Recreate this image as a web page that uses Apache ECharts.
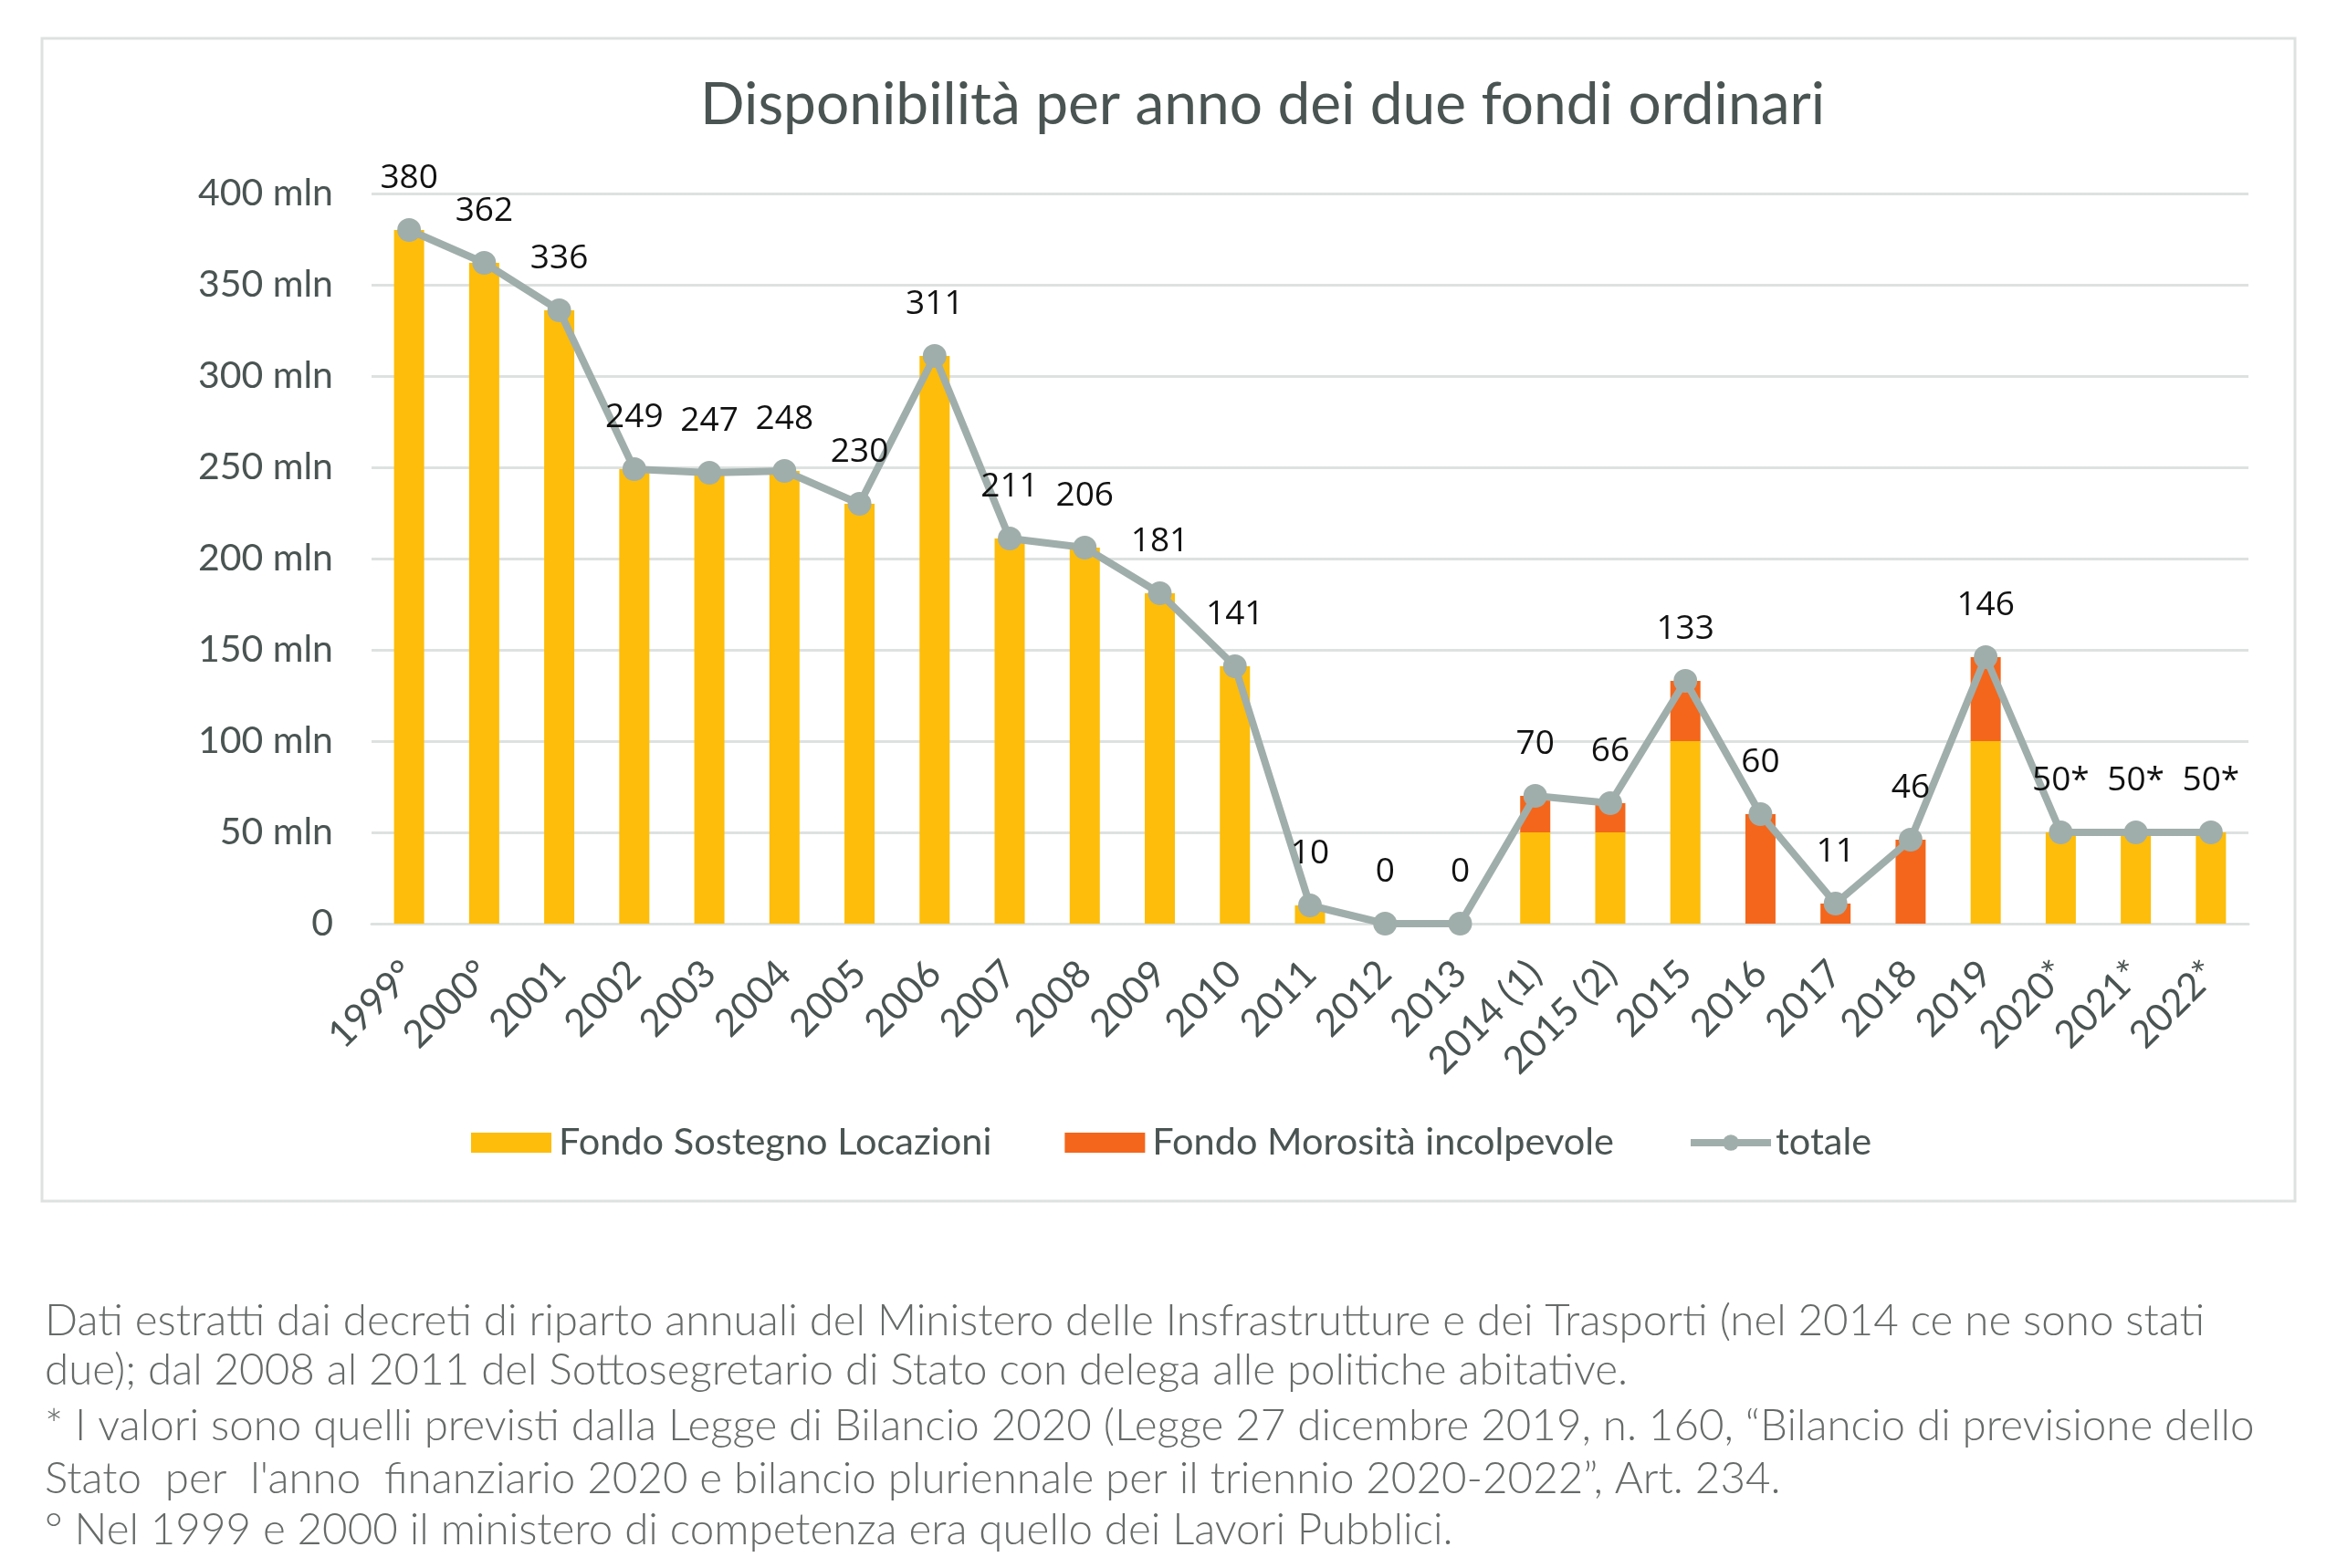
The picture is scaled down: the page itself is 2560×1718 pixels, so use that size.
<!DOCTYPE html>
<html>
<head>
<meta charset="utf-8">
<script src="https://cdn.jsdelivr.net/npm/echarts@6/dist/echarts.min.js"></script>
<style>
html,body{margin:0;padding:0;background:#fff;}
#chart{width:2560px;height:1718px;}
</style>
</head>
<body>
<div id="chart"></div>
<script>
const categories = ['1999°','2000°','2001','2002','2003','2004','2005','2006','2007','2008','2009','2010','2011','2012','2013','2014 (1)','2015 (2)','2015','2016','2017','2018','2019','2020*','2021*','2022*'];
const fondoSostegno = [380,362,336,249,247,248,230,311,211,206,181,141,10,0,0,50,50,100,null,null,null,100,50,50,50];
const fondoMorosita = [null,null,null,null,null,null,null,null,null,null,null,null,null,null,null,20,16,33,60,11,46,46,null,null,null];
const totale = [380,362,336,249,247,248,230,311,211,206,181,141,10,0,0,70,66,133,60,11,46,146,50,50,50];
const totaleLabels = ['380','362','336','249','247','248','230','311','211','206','181','141','10','0','0','70','66','133','60','11','46','146','50*','50*','50*'];
const yTicks = {min:0, max:400, interval:50};
const titleText = 'Disponibilità per anno dei due fondi ordinari';
const footnotes = [
  'Dati estratti dai decreti di riparto annuali del Ministero delle Insfrastrutture e dei Trasporti (nel 2014 ce ne sono stati',
  'due); dal 2008 al 2011 del Sottosegretario di Stato con delega alle politiche abitative.',
  '* I valori sono quelli previsti dalla Legge di Bilancio 2020 (Legge 27 dicembre 2019, n. 160, “Bilancio di previsione dello',
  'Stato  per  l\'anno  finanziario 2020 e bilancio pluriennale per il triennio 2020-2022”, Art. 234.',
  '° Nel 1999 e 2000 il ministero di competenza era quello dei Lavori Pubblici.'
];

const chart = echarts.init(document.getElementById('chart'), null, {renderer:'canvas'});
const footY = [1448,1502,1563,1621,1677];
const graphics = [{
  type:'rect', shape:{x:46,y:42,width:2468,height:1274},
  style:{fill:'none', stroke:'#dde2e0', lineWidth:3}, silent:true, z:-1
}];
footnotes.forEach((t,i)=>{
  graphics.push({type:'text', x:49, y:footY[i], style:{text:t, fill:'#666a69', font:'300 47.5px Lato', textVerticalAlign:'middle', textAlign:'left'}});
});

chart.setOption({
  backgroundColor:'#ffffff',
  animation:false,
  title:{text:titleText, left:762, top:78, textStyle:{fontFamily:'Lato', fontWeight:'normal', fontSize:64, color:'#4a5452'}},
  grid:{left:407, right:97, top:212, bottom:706, containLabel:false},
  legend:{
    left:511, top:1226, itemWidth:88, itemHeight:22, itemGap:80,
    textStyle:{fontFamily:'Lato', fontSize:41.5, color:'#4a5452', padding:[0,0,0,3]},
    data:[
      {name:'Fondo Sostegno Locazioni', icon:'rect'},
      {name:'Fondo Morosità incolpevole', icon:'rect'},
      {name:'totale', lineStyle:{width:8}, textStyle:{padding:[0,0,0,0]}}
    ]
  },
  xAxis:{
    type:'category', data:categories,
    axisLine:{show:true, lineStyle:{color:'#dde2e0', width:3}},
    axisTick:{show:false},
    axisLabel:{rotate:45, fontFamily:'Lato', fontSize:42, color:'#4a5452', margin:48, interval:0}
  },
  yAxis:{
    type:'value', min:yTicks.min, max:yTicks.max, interval:yTicks.interval,
    axisLine:{show:false}, axisTick:{show:false},
    splitLine:{lineStyle:{color:'#dde2e0', width:3}},
    axisLabel:{fontFamily:'Lato', fontSize:41, color:'#4a5452', margin:42,
      formatter:v=> v===0 ? '0' : v+' mln'}
  },
  series:[
    {name:'Fondo Sostegno Locazioni', type:'bar', stack:'f', data:fondoSostegno, barWidth:33,
      itemStyle:{color:'#fdbd0a'}},
    {name:'Fondo Morosità incolpevole', type:'bar', stack:'f', data:fondoMorosita, barWidth:33,
      itemStyle:{color:'#f4661b'}},
    {name:'totale', type:'line', data:totale, z:5,
      symbol:'circle', symbolSize:26,
      lineStyle:{color:'#a0aeab', width:8},
      itemStyle:{color:'#a0aeab'},
      label:{show:true, position:'top', distance:25, fontFamily:'Open Sans', fontSize:37, color:'#111',
        formatter:p=>totaleLabels[p.dataIndex]}
    }
  ],
  graphic:graphics
});
</script>
</body>
</html>
